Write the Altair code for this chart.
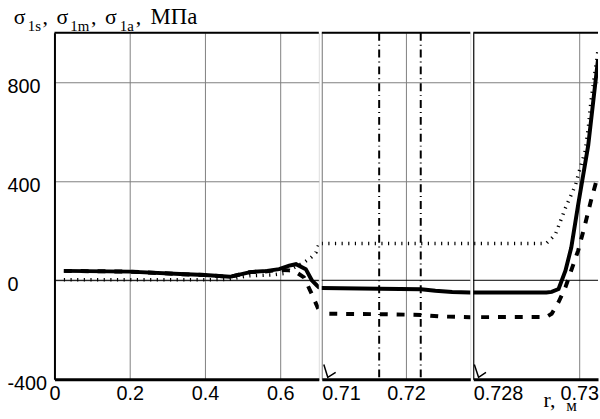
import altair as alt
import pandas as pd

# ---- data ----
# solid (thick) curve
r_solid = [0.025, 0.2, 0.334, 0.4, 0.466, 0.52, 0.565, 0.597, 0.624, 0.642, 0.668, 0.684, 0.697, 0.7026,
           0.71, 0.7168, 0.7218, 0.7235, 0.7255, 0.7276,
           0.728, 0.72938, 0.72948, 0.72961, 0.72974, 0.72985, 0.72998, 0.73017, 0.730355]
v_solid = [38, 35, 25, 21, 14, 33, 38, 45, 59, 65, 45, 0, -20, -28,
           -31, -34, -36, -42, -47, -49,
           -49, -49, -47, -35, 39, 132, 305, 545, 892]

# dashed curve
r_dash = [0.025, 0.2, 0.334, 0.4, 0.466, 0.52, 0.565, 0.597, 0.624, 0.645, 0.663, 0.684, 0.7026,
          0.71, 0.7168, 0.7218, 0.724, 0.7276,
          0.728, 0.72938, 0.72948, 0.72961, 0.72974, 0.72985, 0.72998, 0.73011, 0.73022, 0.730355]
v_dash = [38, 35, 25, 21, 14, 33, 36, 42, 40, 30, 12, -56, -120,
          -135, -137, -140, -146, -149,
          -149, -148, -135, -88, -28, 40, 120, 225, 320, 425]

# dotted curve
r_dot = [0.025, 0.2, 0.4, 0.466, 0.492, 0.518, 0.58, 0.613, 0.624, 0.663, 0.682, 0.695, 0.7026,
         0.71, 0.7276,
         0.728, 0.72938, 0.72955, 0.72974, 0.72993, 0.72998, 0.73011, 0.73017, 0.73022, 0.730355]
v_dot = [2, 2, 2, 4, 12, 18, 22, 28, 40, 72, 92, 112, 145,
         149, 149,
         149, 149, 185, 292, 385, 425, 520, 612, 720, 930]

# vertical dash-dot markers
r_marks = [0.71682, 0.72176]

# axis-break symbols
brk2_r = [0.71024, 0.71071, 0.71165]
brk3_r = [0.72802, 0.7281, 0.72824]
brk_v = [-340, -392, -372]

# ticks
ticks_1 = [0, 0.2, 0.4, 0.6]
ticks_2 = [0.71, 0.72]
ticks_3 = [0.728, 0.73]
yticks = [-400, 0, 400, 800]

df_solid = pd.DataFrame({"r": r_solid, "v": v_solid})
df_dash = pd.DataFrame({"r": r_dash, "v": v_dash})
df_dot = pd.DataFrame({"r": r_dot, "v": v_dot})
df_marks = pd.DataFrame({"r": r_marks})
df_b2 = pd.DataFrame({"r": brk2_r, "v": brk_v})
df_b3 = pd.DataFrame({"r": brk3_r, "v": brk_v})
df_zero = pd.DataFrame({"v": [0]})
one = pd.DataFrame({"a": [0]})

SANS = "Liberation Sans"
SERIF = "Liberation Serif"
GRID = "#808080"
YDOM = [-400, 1000]
H = 350


def txt(s, x, y, size, font=SERIF):
    return alt.Chart(one).mark_text(text=s, align="left", baseline="alphabetic", font=font,
                                    fontSize=size, color="black").encode(
        x=alt.value(x), y=alt.value(y))


def panel(dom, width, xticks, yaxis, flush, brk=None, marks=False, extra=None):
    xaxis = alt.Axis(values=xticks, format="~g", grid=True, gridColor=GRID, gridWidth=1,
                     ticks=False, domain=True, domainColor="black", domainWidth=3,
                     labelFont=SANS, labelFontSize=20, labelColor="black", labelPadding=4,
                     labelFlush=flush, labelOverlap=False, title=None)
    xs = alt.Scale(domain=dom, nice=False, zero=False)
    ys = alt.Scale(domain=YDOM, nice=False, zero=False)
    X = alt.X("r:Q", scale=xs, axis=xaxis)
    Y = alt.Y("v:Q", scale=ys, axis=yaxis)

    layers = [
        alt.Chart(df_zero).mark_rule(color="black", strokeWidth=1).encode(y=Y),
        alt.Chart(df_dot).mark_line(clip=True, color="black", strokeWidth=3.5,
                                    strokeDash=[1.2, 5.5]).encode(x=X, y=Y),
        alt.Chart(df_dash).mark_line(clip=True, color="black", strokeWidth=4,
                                     strokeDash=[8, 9]).encode(x=X, y=Y),
        alt.Chart(df_solid).mark_line(clip=True, color="black", strokeWidth=4).encode(x=X, y=Y),
        alt.Chart(one).mark_rule(color="black", strokeWidth=2).encode(
            x=alt.value(0), x2=alt.value(width), y=alt.value(0)),
    ]
    if marks:
        layers.append(alt.Chart(df_marks).mark_rule(color="black", strokeWidth=2,
                                                    strokeDash=[8, 4, 1, 4]).encode(x=X))
    if brk is not None:
        layers.append(alt.Chart(brk).mark_line(clip=True, color="black", strokeWidth=1.5).encode(
            x=X, y=Y))
    if extra:
        layers.extend(extra)
    return alt.layer(*layers).properties(width=width, height=H)


yaxis1 = alt.Axis(values=yticks, labelExpr="replace(datum.label, '\u2212', '-')", grid=True,
                  gridColor=GRID, gridWidth=1, ticks=False,
                  domain=True, domainColor="black", domainWidth=2, labelFont=SANS, labelFontSize=20,
                  labelColor="black", labelAlign="left", labelPadding=48, labelOffset=4,
                  title=None)
yaxis2 = alt.Axis(values=[400, 800], labels=False, ticks=False, domain=False, grid=True,
                  gridColor=GRID, gridWidth=1, title=None)
yaxis3 = alt.Axis(values=[400, 800], labels=False, ticks=False, domain=True, domainColor="black",
                  domainWidth=1, grid=True, gridColor=GRID, gridWidth=1, title=None)

title_parts = [
    txt("σ", -41, -9, 22), txt("1s", -27, -2, 15), txt(",", -12, -9, 22),
    txt("σ", 2, -9, 22), txt("1m", 16, -2, 15), txt(",", 37, -9, 22),
    txt("σ", 51, -9, 22), txt("1a", 66, -2, 15), txt(",", 82, -9, 22),
    txt("МПа", 97, -9, 23),
]
rlabel = [txt("r,", 71, 378, 22), txt("м", 94, 382, 17)]

p1 = panel([0, 0.7026], 267, ticks_1, yaxis1, False, extra=title_parts)
p2 = panel([0.71, 0.72765], 150, ticks_2, yaxis2, True, brk=df_b2, marks=True)
p3 = panel([0.728, 0.730355], 126, ticks_3, yaxis3, True, brk=df_b3, extra=rlabel).properties(
    view=alt.ViewBackground(stroke="transparent"))

chart = alt.hconcat(p1, p2, p3, spacing=-1).properties(
    padding={"left": 6, "top": 3, "right": 0, "bottom": 0}
).configure_view(stroke="black", strokeWidth=1).configure(background="white")

chart.save("out.html", embed_options={"renderer": "svg", "actions": False})
